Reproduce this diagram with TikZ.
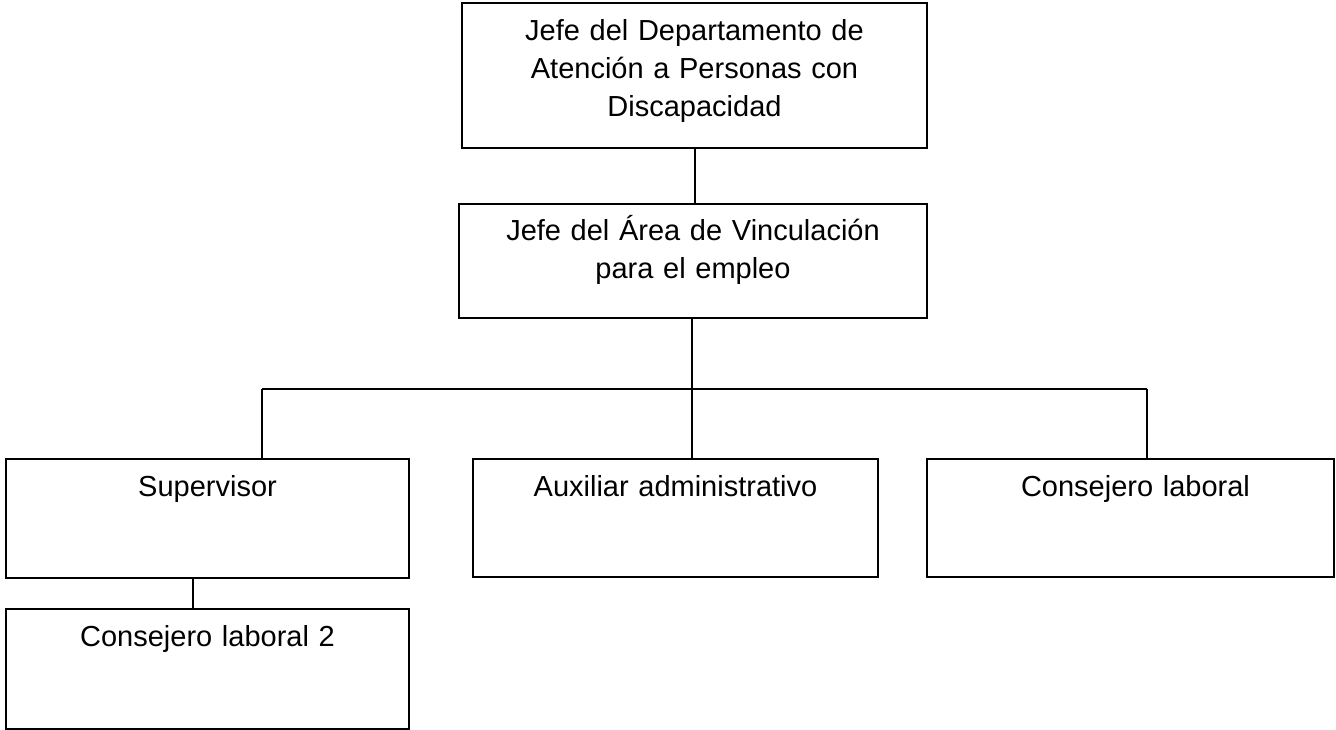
\documentclass[tikz,border=0pt]{standalone}
\usepackage{fontspec}
\setmainfont{Liberation Sans}
\begin{document}
\begin{tikzpicture}[x=1pt,y=-1pt,
  box/.style={draw=black,line width=2.2pt,inner sep=0pt,minimum width=#1},
  lbl/.style={anchor=base,inner sep=0pt,text width=440pt,align=center,
    font=\fontsize{29pt}{38pt}\selectfont},
  conn/.style={draw=black,line width=2pt}]
\useasboundingbox (0,0) rectangle (1336,730);
\node[box=465pt,minimum height=145pt] (top) at (694.5,75.5) {};
\node[box=468pt,minimum height=114pt] (second) at (693,261) {};
\node[box=403pt,minimum height=119pt] (sup) at (207.5,518.5) {};
\node[box=405pt,minimum height=118pt] (aux) at (675.5,518) {};
\node[box=407pt,minimum height=118pt] (cons) at (1130.5,518) {};
\node[box=403pt,minimum height=120pt] (cl2) at (207.5,669) {};
\node[lbl] (ttop) at ([yshift=-39pt]top.north) {Jefe del Departamento de\\Atención a Personas con\\Discapacidad};
\node[lbl] (tsecond) at ([yshift=-38pt]second.north) {Jefe del Área de Vinculación\\para el empleo};
\node[lbl] (tsup) at ([yshift=-39pt]sup.north) {Supervisor};
\node[lbl] (taux) at ([yshift=-39pt]aux.north) {Auxiliar administrativo};
\node[lbl] (tcons) at ([xshift=5pt,yshift=-39pt]cons.north) {Consejero laboral};
\node[lbl] (tcl2) at ([yshift=-39pt]cl2.north) {Consejero laboral 2};
\coordinate (busL) at (262,389);
\coordinate (busR) at (1147,389);
\coordinate (supdrop) at (193,578);
\draw[conn] (top.south) -- (top.south |- second.north);
\draw[conn] ([xshift=-1pt]second.south) -- ([xshift=-1pt]second.south |- aux.north);
\draw[conn] (busL) -- (busR);
\draw[conn] (busL) -- (busL |- sup.north);
\draw[conn] (busR) -- (busR |- cons.north);
\draw[conn] (supdrop |- sup.south) -- (supdrop |- cl2.north);
\end{tikzpicture}
\end{document}
